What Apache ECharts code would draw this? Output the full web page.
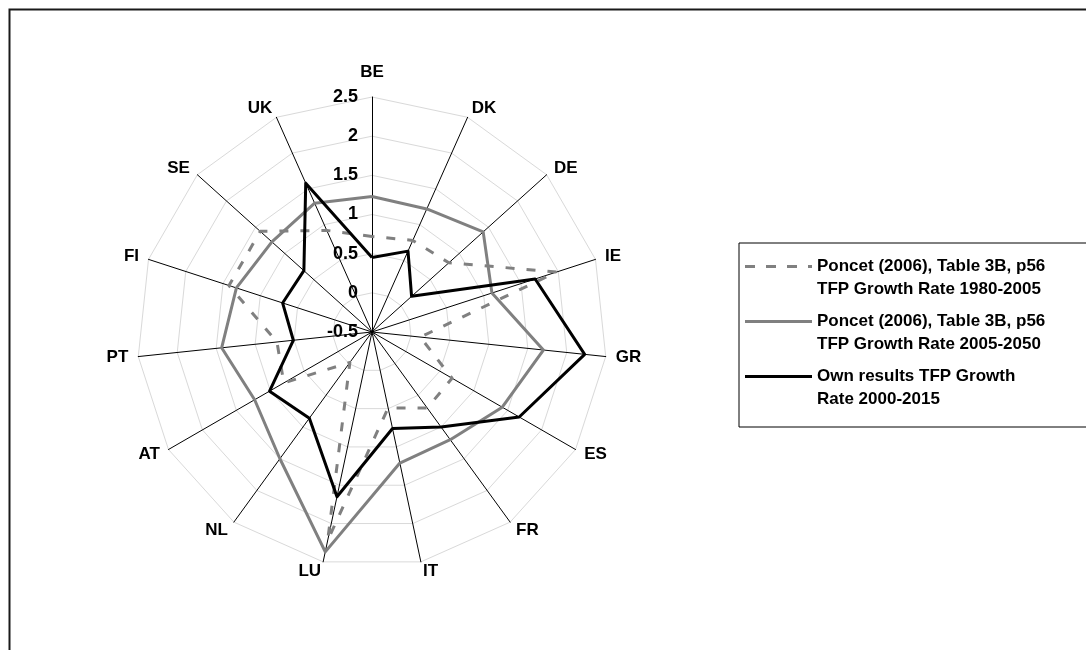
<!DOCTYPE html>
<html><head><meta charset="utf-8">
<script src="https://cdn.jsdelivr.net/npm/echarts@6/dist/echarts.min.js"></script>
<style>html,body{margin:0;padding:0;background:#fff}#c{width:1086px;height:650px}</style>
</head><body><div id="c"></div>
<script>
// ---- data (clockwise from top) ----
const categories = ['BE','DK','DE','IE','GR','ES','FR','IT','LU','NL','AT','PT','FI','SE','UK'];
const poncet1980 = [0.72, 0.78, 0.82, 1.98, 0.12, 0.68, 0.70, 0.49, 2.22, -0.02, 0.80, 0.72, 1.42, 1.42, 0.92];
const poncet2005 = [1.23, 1.22, 1.41, 1.11, 1.70, 1.42, 1.20, 1.21, 2.37, 1.50, 1.23, 1.43, 1.32, 1.22, 1.30];
const ownResults = [0.45, 0.63, 0.18, 1.69, 2.23, 1.67, 1.00, 0.76, 1.65, 0.86, 1.01, 0.51, 0.70, 0.67, 1.58];
const seriesNames = [
  'Poncet (2006), Table 3B, p56\nTFP Growth Rate 1980-2005',
  'Poncet (2006), Table 3B, p56\nTFP Growth Rate 2005-2050',
  'Own results TFP Growth\nRate 2000-2015'
];
const axisMin = -0.5, axisMax = 2.5, axisStep = 0.5;

const FONT = '"Liberation Sans", Arial, Helvetica, sans-serif';
// ECharts radar runs counter-clockwise: keep first, reverse the rest
const order = [0].concat(categories.map((_, i) => i).slice(1).reverse());
const reorder = arr => order.map(i => arr[i]);

const indicators = order.map((i, k) => {
  const ind = { name: categories[i], min: axisMin, max: axisMax };
  if (k === 0) {
    ind.axisLabel = { show: true, color: '#000', fontSize: 18, fontWeight: 'bold', fontFamily: FONT, margin: 14 };
    ind.nameGap = 16;
  }
  return ind;
});

const dashIcon = 'path://M0,0h10v3h-10z M21,0h10v3h-10z M42,0h10v3h-10z M63,0h4v3h-4z M0,26L0.01,26';
const solidIcon = 'path://M0,0h67v3h-67z M0,26L0.01,26';

const chart = echarts.init(document.getElementById('c'), null, { renderer: 'canvas' });
chart.setOption({
  animation: false,
  backgroundColor: '#fff',
  graphic: [{
    type: 'rect', silent: true, z: -10,
    shape: { x: 9.5, y: 9.5, width: 1300, height: 900 },
    style: { fill: 'none', stroke: '#1a1a1a', lineWidth: 2 }
  }],
  legend: {
    orient: 'vertical', left: 739, top: 243,
    padding: [12, 60, 16, 6],
    borderColor: '#000', borderWidth: 1,
    itemWidth: 67, itemHeight: 26, itemGap: 9,
    selectedMode: false,
    itemStyle: { borderWidth: 0 },
    textStyle: { fontSize: 17, fontWeight: 'bold', lineHeight: 23, color: '#000', fontFamily: FONT },
    data: [
      { name: seriesNames[0], icon: dashIcon, itemStyle: { color: '#808080' } },
      { name: seriesNames[1], icon: solidIcon, itemStyle: { color: '#808080' } },
      { name: seriesNames[2], icon: solidIcon, itemStyle: { color: '#000' } }
    ]
  },
  radar: {
    center: [372, 332],
    radius: 235,
    startAngle: 90,
    splitNumber: (axisMax - axisMin) / axisStep,
    shape: 'polygon',
    indicator: indicators,
    axisName: { color: '#000', fontSize: 17, fontWeight: 'bold', fontFamily: FONT },
    nameGap: 10,
    axisLine: { lineStyle: { color: '#000', width: 1 } },
    splitLine: { lineStyle: { color: '#d9d9d9', width: 1 } },
    splitArea: { show: false },
    axisTick: { show: false },
    axisLabel: { show: false }
  },
  series: [{
    type: 'radar',
    symbol: 'none',
    silent: true,
    data: [
      { name: seriesNames[0], value: reorder(poncet1980),
        lineStyle: { color: '#808080', width: 3, type: [9, 12] }, itemStyle: { color: '#808080' } },
      { name: seriesNames[1], value: reorder(poncet2005),
        lineStyle: { color: '#808080', width: 3 }, itemStyle: { color: '#808080' } },
      { name: seriesNames[2], value: reorder(ownResults),
        lineStyle: { color: '#000', width: 3 }, itemStyle: { color: '#000' } }
    ]
  }]
});
</script>
</body></html>
